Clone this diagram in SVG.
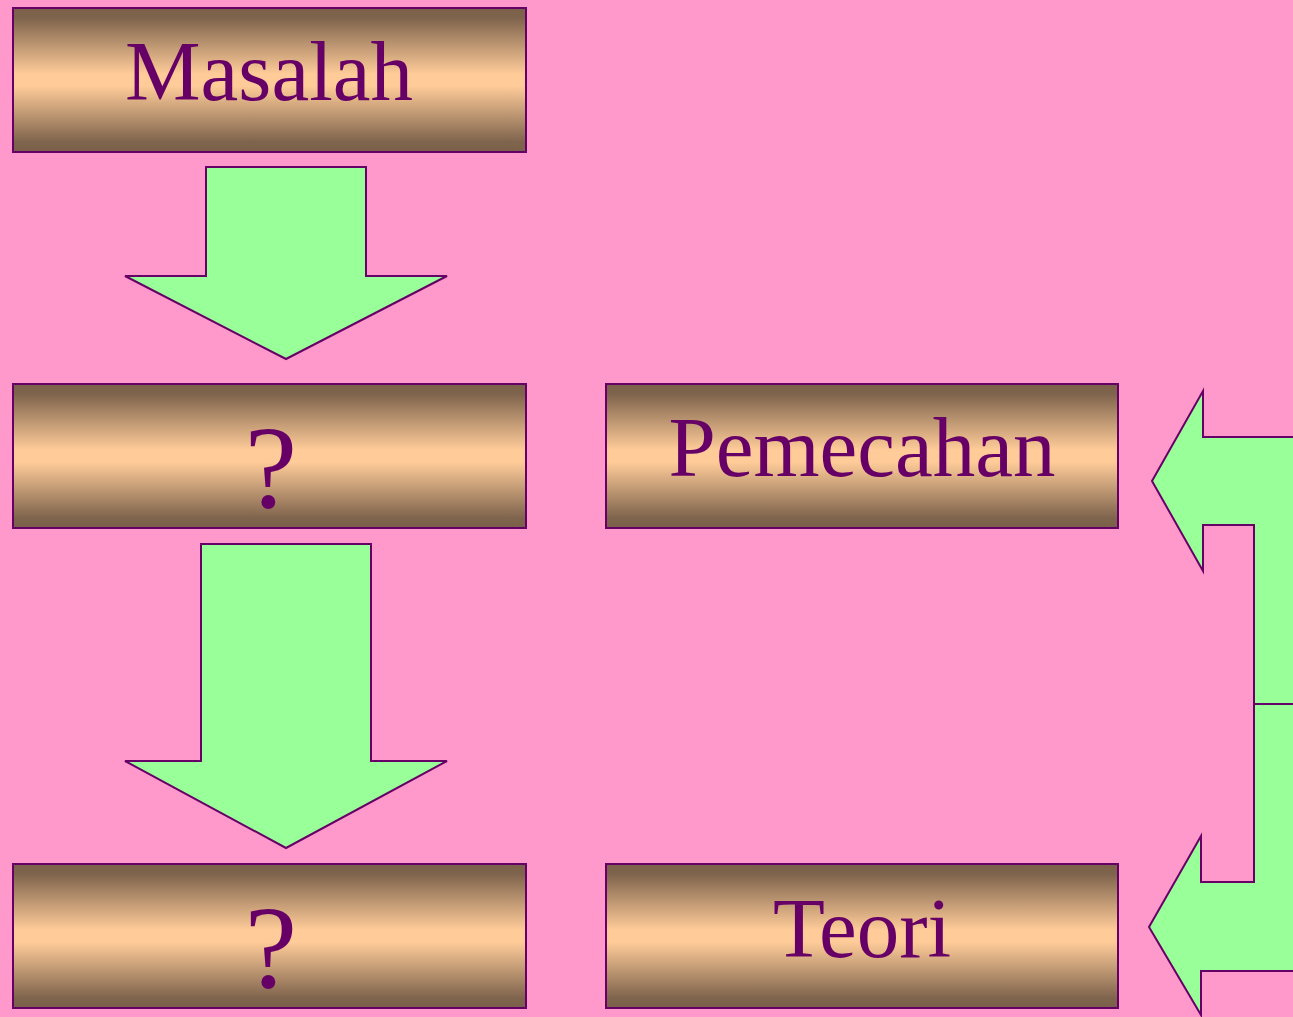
<svg xmlns="http://www.w3.org/2000/svg" width="1293" height="1017" viewBox="0 0 1293 1017">
<defs>
<linearGradient id="g" x1="0" y1="0" x2="0" y2="1">
<stop offset="0" stop-color="#7a5f4a"/>
<stop offset="0.07" stop-color="#7f644d"/>
<stop offset="0.46" stop-color="#ffcc99"/>
<stop offset="0.54" stop-color="#ffcc99"/>
<stop offset="0.93" stop-color="#7f644d"/>
<stop offset="1" stop-color="#7a5f4a"/>
</linearGradient>
<style>
.box{fill:url(#g);stroke:#660066;stroke-width:2}
.arr{fill:#99ff99;stroke:#660066;stroke-width:2;stroke-linejoin:miter}
.t{font-family:"Liberation Serif","Times New Roman",serif;font-size:85px;fill:#660066;text-anchor:middle}
.q{font-size:118px}
</style>
</defs>
<rect width="1293" height="1017" fill="#ff99cc"/>
<g id="n-masalah"><rect class="box" x="13" y="8" width="513" height="144"/><text class="t" x="269" y="100">Masalah</text></g>
<g id="n-q1"><rect class="box" x="13" y="384" width="513" height="144"/><text class="t q" x="271" y="507">?</text></g>
<g id="n-q2"><rect class="box" x="13" y="864" width="513" height="144"/><text class="t q" x="271" y="987">?</text></g>
<g id="n-pemecahan"><rect class="box" x="606" y="384" width="512" height="144"/><text class="t" x="862" y="476">Pemecahan</text></g>
<g id="n-teori"><rect class="box" x="606" y="864" width="512" height="144"/><text class="t" x="862" y="957">Teori</text></g>
<g id="connectors">
<polygon class="arr" points="206,167 366,167 366,276 447,276 286,359 125,276 206,276"/>
<polygon class="arr" points="201,544 371,544 371,761 447,761 286,848 125,761 201,761"/>
<polygon class="arr" points="1152,481 1203,391 1203,437 1300,437 1300,720 1254,720 1254,525 1203,525 1203,571"/>
<polygon class="arr" points="1149,927 1201,836 1201,882 1254,882 1254,704 1300,704 1300,971 1201,971 1201,1015"/>
</g>
</svg>
